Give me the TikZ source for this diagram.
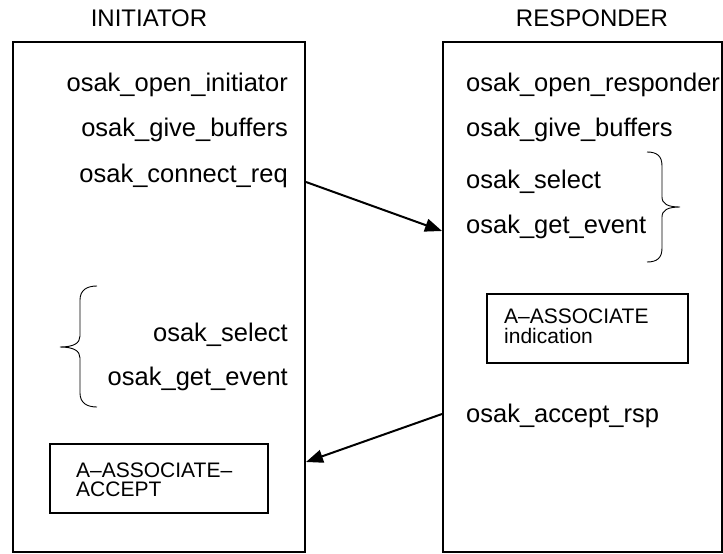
\documentclass[tikz,border=0pt]{standalone}
\usepackage{fontspec}
\setmainfont{Liberation Sans}
\usetikzlibrary{arrows.meta}
\begin{document}
\begin{tikzpicture}[x=1pt,y=-1pt,
  side/.style={draw,line width=2pt,minimum width=292pt,minimum height=510pt,anchor=north west,inner sep=0pt},
  msgbox/.style={draw,line width=2pt,anchor=north west,inner sep=0pt},
  call/.style={inner sep=0pt,font=\fontsize{25.5}{30}\selectfont},
  title/.style={inner sep=0pt,anchor=base,font=\fontsize{24}{28}\selectfont},
  small/.style={inner sep=0pt,anchor=base west,font=\fontsize{21}{24}\selectfont},
  arr/.style={line width=2pt,-{Triangle[length=17pt,width=13pt]}},
  brace/.style={line width=0.9pt}]
\useasboundingbox (0,0) rectangle (723,554);

% titles
\node[title] (tini) at (149,27) {INITIATOR};
\node[title] (tresp) at (592,27) {RESPONDER};

% the two sides
\node[side] (ini) at (12,41) {};
\node[side,minimum width=279pt] (resp) at (442,41) {};

% initiator calls
\node[call,anchor=base east] (i1) at (288,91) {osak\_open\_initiator};
\node[call,anchor=base east] (i2) at (288,136) {osak\_give\_buffers};
\node[call,anchor=base east] (i3) at (288,182) {osak\_connect\_req};
\node[call,anchor=base east] (i4) at (288,341) {osak\_select};
\node[call,anchor=base east] (i5) at (288,385) {osak\_get\_event};

% responder calls
\node[call,anchor=base west] (r1) at (466,91) {osak\_open\_responder};
\node[call,anchor=base west] (r2) at (466,136) {osak\_give\_buffers};
\node[call,anchor=base west] (r3) at (466,188) {osak\_select};
\node[call,anchor=base west] (r4) at (466,233) {osak\_get\_event};
\node[call,anchor=base west] (r5) at (466,422) {osak\_accept\_rsp};

% event boxes
\node[msgbox,minimum width=201pt,minimum height=69pt] (ind) at (486,293) {};
\node[small] (ind1) at (504,323) {A--ASSOCIATE};
\node[small] (ind2) at (504,343) {indication};

\node[msgbox,minimum width=218pt,minimum height=69pt] (acc) at (49,443) {};
\node[small] (acc1) at (76,477) {A--ASSOCIATE--};
\node[small] (acc2) at (76,496) {ACCEPT};

% braces
\draw[brace] (647,152) .. controls (657,152) and (662,156) .. (662,166)
  -- (662,197) .. controls (662,204) and (668,207) .. (680,207)
  .. controls (668,207) and (662,210) .. (662,217)
  -- (662,248) .. controls (662,258) and (657,262) .. (647,262);
\draw[brace] (97,286) .. controls (87,286) and (80,290) .. (80,300)
  -- (80,336) .. controls (80,343) and (74,347) .. (60,347)
  .. controls (74,347) and (80,351) .. (80,358)
  -- (80,393) .. controls (80,403) and (87,407) .. (97,407);

% messages
\coordinate (m1s) at (ini.north east |- 0,182);
\coordinate (m1e) at (resp.north west |- 0,231);
\draw[arr] (m1s) -- (m1e);
\coordinate (m2s) at (resp.north west |- 0,414);
\coordinate (m2e) at (ini.north east |- 0,462);
\draw[arr] (m2s) -- (m2e);
\end{tikzpicture}
\end{document}
